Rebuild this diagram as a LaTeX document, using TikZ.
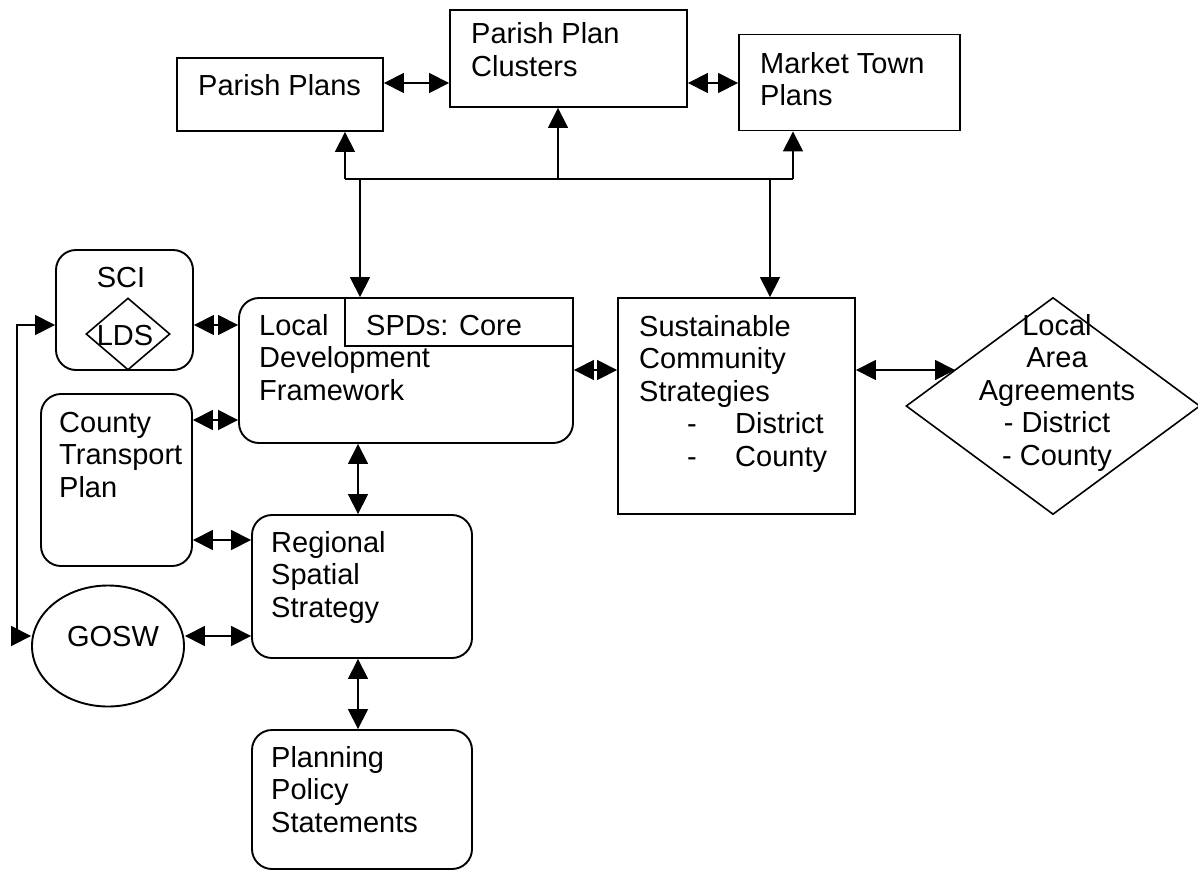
\documentclass[tikz,border=0pt]{standalone}
\usepackage{fontspec}
\setmainfont{Liberation Sans}
\usetikzlibrary{arrows.meta,shapes.geometric}
\newcommand{\tlines}[1]{\begin{tabular}[t]{@{}l@{}}#1\end{tabular}}
\newcommand{\tclines}[1]{\begin{tabular}[t]{@{}c@{}}#1\end{tabular}}
\begin{document}
\begin{tikzpicture}[x=1pt,y=-1pt,
  font=\fontsize{29}{32.5}\selectfont,
  box/.style={draw, line width=1.9pt, inner sep=0pt, rectangle},
  rbox/.style={box, rounded corners=20pt},
  dmd/.style={draw, line width=1.6pt, inner sep=0pt, diamond},
  oval/.style={draw, line width=1.9pt, inner sep=0pt, ellipse},
  txt/.style={inner sep=0pt, anchor=base west},
  ctxt/.style={inner sep=0pt, anchor=base},
  ln/.style={line width=1.7pt},
  sar/.style={ln, -{Triangle[length=20pt,width=20pt]}},
  dar/.style={ln, {Triangle[length=20pt,width=20pt]}-{Triangle[length=20pt,width=20pt]}}]
\useasboundingbox (0,0) rectangle (1198,870);

% boxes
\node[box, minimum width=206pt, minimum height=73pt] (pp) at (280,94.5) {};
\node[box, minimum width=237pt, minimum height=97pt] (ppc) at (568.5,58.5) {};
\node[box, minimum width=221pt, minimum height=96pt] (mtp) at (849.5,82.5) {};
\node[rbox, minimum width=137pt, minimum height=120pt] (sci) at (124.5,310) {};
\node[dmd, minimum width=84pt, minimum height=72pt] (lds) at (128,334) {};
\node[rbox, minimum width=334pt, minimum height=145pt] (ldf) at (406,370.5) {};
\node[box, fill=white, minimum width=228pt, minimum height=48pt] (spd) at (459,322) {};
\node[rbox, minimum width=151pt, minimum height=172pt] (ctp) at (116.5,480) {};
\node[rbox, minimum width=220pt, minimum height=143pt] (rss) at (362,586.5) {};
\node[rbox, minimum width=220pt, minimum height=139pt] (pps) at (362,799.5) {};
\node[oval, minimum width=152pt, minimum height=121pt] (gosw) at (108,646) {};
\node[box, minimum width=237pt, minimum height=216pt] (scs) at (736.5,406) {};
\node[dmd, minimum width=294pt, minimum height=217pt] (laa) at (1053,406) {};

% texts
\node[txt] (tpp) at (198,95) {Parish Plans};
\node[txt] (tppc) at (471,43.5) {\tlines{Parish Plan\\Clusters}};
\node[txt] (tmtp) at (760,73) {\tlines{Market Town\\Plans}};
\node[ctxt] (tsci) at (121,287) {SCI};
\node[ctxt] (tlds) at (125,345) {LDS};
\node[txt] (tldf) at (259,335) {\tlines{Local\\Development\\Framework}};
\node[txt] (tspd) at (366,335) {SPDs: Core};
\node[txt] (tctp) at (59,432) {\tlines{County\\Transport\\Plan}};
\node[txt] (trss) at (271,552) {\tlines{Regional\\Spatial\\Strategy}};
\node[txt] (tpps) at (271,767) {\tlines{Planning\\Policy\\Statements}};
\node[ctxt] (tgosw) at (113,646) {GOSW};
\node[txt] (tscs) at (639,336) {\tlines{Sustainable\\Community\\Strategies\\
  \makebox[96pt][l]{\hspace*{48pt}-}District\\
  \makebox[96pt][l]{\hspace*{48pt}-}County}};
\node[ctxt] (tlaa) at (1057,335) {\tclines{Local\\Area\\Agreements\\- District\\- County}};

% helper coordinates
\coordinate (y83) at (0,83);
\coordinate (y325) at (0,325);
\coordinate (y370) at (0,370);
\coordinate (y420) at (0,420);
\coordinate (y540) at (0,540);
\coordinate (y636) at (0,636);
\coordinate (vx) at (358,0);
\coordinate (b1) at (345,179);
\coordinate (b2) at (558,179);
\coordinate (b3) at (793,179);
\coordinate (d1) at (360,179);
\coordinate (d2) at (770,179);
\coordinate (lp1) at (17,325);
\coordinate (lp2) at (17,636);
\coordinate (laae) at (955,370);

% top bus
\draw[ln] (b1) -- (b3);
\draw[sar] (b1) -- (b1 |- pp.south);
\draw[sar] (b2) -- (b2 |- ppc.south);
\draw[sar] (b3) -- (b3 |- mtp.south);
\draw[sar] (d1) -- (d1 |- spd.north);
\draw[sar] (d2) -- (d2 |- scs.north);

% horizontal double arrows
\draw[dar] (pp.east |- y83) -- (ppc.west |- y83);
\draw[dar] (ppc.east |- y83) -- (mtp.west |- y83);
\draw[dar] (sci.east |- y325) -- (ldf.west |- y325);
\draw[dar] (ctp.east |- y420) -- (ldf.west |- y420);
\draw[dar] (ldf.east |- y370) -- (scs.west |- y370);
\draw[dar] (scs.east |- y370) -- (laae);
\draw[dar] (ctp.east |- y540) -- (rss.west |- y540);
\draw[dar] (gosw.east |- y636) -- (rss.west |- y636);

% vertical double arrows
\draw[dar] (vx |- ldf.south) -- (vx |- rss.north);
\draw[dar] (vx |- rss.south) -- (vx |- pps.north);

% left loop
\draw[dar] (sci.west |- y325) -- (lp1) -- (lp2) -- (gosw.west |- y636);
\end{tikzpicture}
\end{document}
